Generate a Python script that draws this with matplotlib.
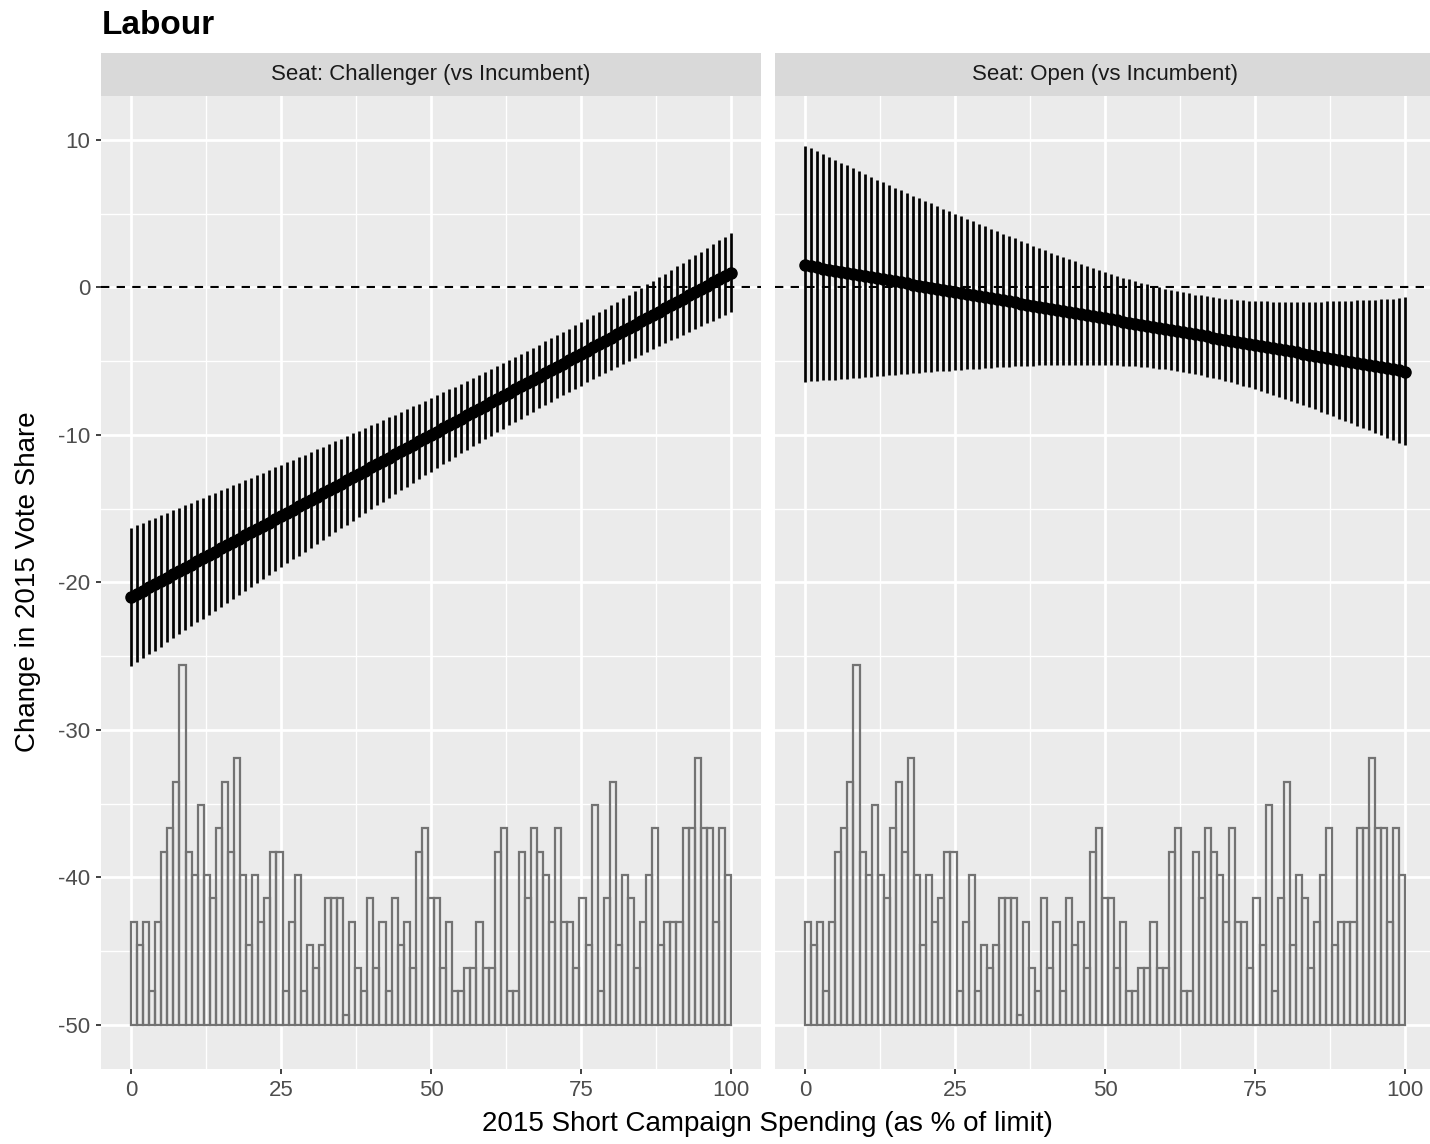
import numpy as np
import matplotlib
matplotlib.use("Agg")
import matplotlib.pyplot as plt

plt.rcParams['font.family'] = ['Liberation Sans', 'DejaVu Sans']
plt.rcParams['axes.unicode_minus'] = False

# ---------------- data ----------------
title = "Labour"
facet_titles = ["Seat: Challenger (vs Incumbent)", "Seat: Open (vs Incumbent)"]
x_label = "2015 Short Campaign Spending (as % of limit)"
y_label = "Change in 2015 Vote Share"
x_ticks = [0, 25, 50, 75, 100]
x_tick_labels = ["0", "25", "50", "75", "100"]
y_ticks = [-50, -40, -30, -20, -10, 0, 10]
y_tick_labels = ["-50", "-40", "-30", "-20", "-10", "0", "10"]

spending = np.arange(0, 101)

left_fit = [-21.00, -20.78, -20.56, -20.34, -20.12, -19.90, -19.68, -19.46, -19.24, -19.02,
            -18.80, -18.58, -18.36, -18.14, -17.92, -17.70, -17.48, -17.26, -17.04, -16.82,
            -16.60, -16.38, -16.16, -15.94, -15.72, -15.50, -15.28, -15.06, -14.84, -14.62,
            -14.40, -14.18, -13.96, -13.74, -13.52, -13.30, -13.08, -12.86, -12.64, -12.42,
            -12.20, -11.98, -11.76, -11.54, -11.32, -11.10, -10.88, -10.66, -10.44, -10.22,
            -10.00, -9.78, -9.56, -9.34, -9.12, -8.90, -8.68, -8.46, -8.24, -8.02,
            -7.80, -7.58, -7.36, -7.14, -6.92, -6.70, -6.48, -6.26, -6.04, -5.82,
            -5.60, -5.38, -5.16, -4.94, -4.72, -4.50, -4.28, -4.06, -3.84, -3.62,
            -3.40, -3.18, -2.96, -2.74, -2.52, -2.30, -2.08, -1.86, -1.64, -1.42,
            -1.20, -0.98, -0.76, -0.54, -0.32, -0.10, 0.12, 0.34, 0.56, 0.78, 1.00]

left_lo = [-25.70, -25.43, -25.16, -24.89, -24.62, -24.35, -24.07, -23.80, -23.53, -23.26,
           -22.99, -22.72, -22.45, -22.18, -21.91, -21.65, -21.38, -21.11, -20.84, -20.57,
           -20.31, -20.04, -19.77, -19.51, -19.24, -18.97, -18.71, -18.44, -18.18, -17.91,
           -17.65, -17.39, -17.13, -16.86, -16.60, -16.34, -16.08, -15.82, -15.56, -15.30,
           -15.04, -14.78, -14.53, -14.27, -14.01, -13.76, -13.51, -13.25, -13.00, -12.75,
           -12.50, -12.25, -12.00, -11.76, -11.51, -11.26, -11.02, -10.78, -10.54, -10.30,
           -10.06, -9.82, -9.59, -9.35, -9.12, -8.89, -8.66, -8.43, -8.20, -7.98,
           -7.75, -7.53, -7.31, -7.09, -6.87, -6.66, -6.44, -6.23, -6.02, -5.81,
           -5.60, -5.39, -5.19, -4.98, -4.78, -4.58, -4.38, -4.18, -3.98, -3.78,
           -3.59, -3.40, -3.20, -3.01, -2.82, -2.63, -2.44, -2.25, -2.07, -1.88, -1.69]

left_hi = [-16.30, -16.13, -15.96, -15.79, -15.62, -15.45, -15.29, -15.12, -14.95, -14.78,
           -14.61, -14.44, -14.27, -14.10, -13.93, -13.75, -13.58, -13.41, -13.24, -13.07,
           -12.89, -12.72, -12.55, -12.37, -12.20, -12.03, -11.85, -11.68, -11.50, -11.33,
           -11.15, -10.97, -10.79, -10.62, -10.44, -10.26, -10.08, -9.90, -9.72, -9.54,
           -9.36, -9.18, -8.99, -8.81, -8.63, -8.44, -8.25, -8.07, -7.88, -7.69,
           -7.50, -7.31, -7.12, -6.92, -6.73, -6.54, -6.34, -6.14, -5.94, -5.74,
           -5.54, -5.34, -5.13, -4.93, -4.72, -4.51, -4.30, -4.09, -3.88, -3.66,
           -3.45, -3.23, -3.01, -2.79, -2.57, -2.34, -2.12, -1.89, -1.66, -1.43,
           -1.20, -0.97, -0.73, -0.50, -0.26, -0.02, 0.22, 0.46, 0.70, 0.94,
           1.19, 1.44, 1.68, 1.93, 2.18, 2.43, 2.68, 2.93, 3.19, 3.44, 3.69]

right_fit = [1.50, 1.43, 1.36, 1.28, 1.21, 1.14, 1.07, 1.00, 0.92, 0.85,
             0.78, 0.71, 0.64, 0.56, 0.49, 0.42, 0.35, 0.28, 0.20, 0.13,
             0.06, -0.01, -0.08, -0.16, -0.23, -0.30, -0.37, -0.44, -0.52, -0.59,
             -0.66, -0.73, -0.80, -0.88, -0.95, -1.02, -1.09, -1.16, -1.24, -1.31,
             -1.38, -1.45, -1.52, -1.60, -1.67, -1.74, -1.81, -1.88, -1.96, -2.03,
             -2.10, -2.17, -2.24, -2.32, -2.39, -2.46, -2.53, -2.60, -2.68, -2.75,
             -2.82, -2.89, -2.96, -3.04, -3.11, -3.18, -3.25, -3.32, -3.40, -3.47,
             -3.54, -3.61, -3.68, -3.76, -3.83, -3.90, -3.97, -4.04, -4.12, -4.19,
             -4.26, -4.33, -4.40, -4.48, -4.55, -4.62, -4.69, -4.76, -4.84, -4.91,
             -4.98, -5.05, -5.12, -5.20, -5.27, -5.34, -5.41, -5.48, -5.56, -5.63, -5.70]

right_lo = [-6.40, -6.37, -6.34, -6.31, -6.28, -6.25, -6.21, -6.18, -6.15, -6.12,
            -6.09, -6.06, -6.02, -6.00, -5.96, -5.92, -5.89, -5.85, -5.83, -5.79,
            -5.76, -5.72, -5.69, -5.67, -5.64, -5.61, -5.58, -5.55, -5.53, -5.50,
            -5.47, -5.44, -5.42, -5.40, -5.38, -5.36, -5.34, -5.32, -5.31, -5.29,
            -5.28, -5.26, -5.25, -5.25, -5.24, -5.24, -5.24, -5.24, -5.25, -5.25,
            -5.26, -5.27, -5.28, -5.31, -5.33, -5.36, -5.39, -5.42, -5.47, -5.51,
            -5.56, -5.61, -5.67, -5.74, -5.81, -5.88, -5.96, -6.04, -6.14, -6.23,
            -6.33, -6.43, -6.54, -6.66, -6.77, -6.89, -7.01, -7.14, -7.28, -7.41,
            -7.55, -7.69, -7.83, -7.98, -8.12, -8.27, -8.42, -8.57, -8.74, -8.89,
            -9.05, -9.21, -9.37, -9.54, -9.70, -9.86, -10.03, -10.19, -10.37, -10.54, -10.68]

right_hi = [9.62, 9.43, 9.24, 9.04, 8.85, 8.66, 8.47, 8.27, 8.07, 7.88,
            7.70, 7.51, 7.32, 7.13, 6.95, 6.76, 6.59, 6.41, 6.23, 6.05,
            5.88, 5.70, 5.53, 5.35, 5.18, 5.01, 4.84, 4.67, 4.49, 4.32,
            4.15, 3.98, 3.82, 3.64, 3.48, 3.32, 3.16, 3.00, 2.83, 2.67,
            2.52, 2.36, 2.21, 2.05, 1.90, 1.76, 1.62, 1.48, 1.33, 1.19,
            1.06, 0.93, 0.80, 0.67, 0.55, 0.44, 0.33, 0.22, 0.11, 0.01,
            -0.08, -0.17, -0.25, -0.34, -0.41, -0.48, -0.54, -0.60, -0.66, -0.71,
            -0.75, -0.79, -0.82, -0.86, -0.89, -0.91, -0.93, -0.94, -0.96, -0.97,
            -0.97, -0.97, -0.97, -0.98, -0.98, -0.97, -0.96, -0.95, -0.94, -0.93,
            -0.91, -0.89, -0.87, -0.86, -0.84, -0.82, -0.79, -0.77, -0.75, -0.72, -0.66]

# histogram of spending (99 bins over 0..100), counts per bin
hist_counts = [5, 4, 5, 2, 5, 8, 9, 11, 16, 8,
               7, 10, 7, 6, 9, 11, 8, 12, 7, 4,
               7, 5, 6, 8, 8, 2, 5, 7, 2, 4,
               3, 4, 6, 6, 6, 1, 5, 3, 2, 6,
               3, 5, 2, 6, 4, 5, 3, 8, 9, 6,
               6, 3, 5, 2, 2, 3, 3, 5, 3, 3,
               8, 9, 2, 2, 8, 6, 9, 8, 7, 5,
               9, 5, 5, 3, 6, 4, 10, 2, 6, 11,
               4, 7, 6, 3, 5, 7, 9, 4, 5, 5,
               5, 9, 9, 12, 9, 9, 5, 9, 7]
hist_range = (0, 100)
hist_base = -50        # histogram drawn from this baseline
hist_per_count = 1.58  # vertical units per count
hist_shift = -0.9      # offset of the rescaled counts

panels = [
    (left_fit, left_lo, left_hi),
    (right_fit, right_lo, right_hi),
]

# ---------------- figure ----------------
W, H = 1430, 1144
fig = plt.figure(figsize=(W / 100, H / 100), dpi=100)


def px_rect(x0, y0, x1, y1):
    return [x0 / W, 1 - y1 / H, (x1 - x0) / W, (y1 - y0) / H]


panel_x = [(101, 761), (775, 1435)]
panel_top, panel_bottom = 95.75, 1069
strip_top = 53

edges = np.linspace(hist_range[0], hist_range[1], len(hist_counts) + 1)
hist_heights = np.array(hist_counts) * hist_per_count + hist_shift

for i, (fit, lo, hi) in enumerate(panels):
    x0, x1 = panel_x[i]
    ax = fig.add_axes(px_rect(x0, panel_top, x1, panel_bottom))
    ax.set_facecolor('#EBEBEB')
    for s in ax.spines.values():
        s.set_visible(False)
    ax.set_xlim(-5, 105)
    ax.set_ylim(-53, 13)
    ax.set_xticks(x_ticks)
    ax.set_xticklabels(x_tick_labels)
    ax.set_xticks([12.5, 37.5, 62.5, 87.5], minor=True)
    ax.set_yticks(y_ticks)
    ax.set_yticks([-45, -35, -25, -15, -5, 5], minor=True)
    ax.set_axisbelow(True)
    ax.grid(which='major', color='white', linewidth=1.95)
    ax.grid(which='minor', color='white', linewidth=0.97)
    ax.tick_params(which='minor', length=0)
    ax.tick_params(which='major', length=3.6, width=1.3, color='#333333',
                   labelcolor='#4D4D4D', labelsize=16, pad=4)
    if i == 0:
        ax.set_yticklabels(y_tick_labels)
    else:
        ax.tick_params(axis='y', which='both', left=False, labelleft=False)

    # reference line
    ax.axhline(0, color='black', linewidth=1.5, linestyle=(0, (4, 3.5)), zorder=2)

    # histogram
    ax.bar(edges[:-1], hist_heights, width=np.diff(edges), bottom=hist_base,
           align='edge', fill=False, edgecolor='#737373', linewidth=1.6, zorder=3)

    # confidence intervals
    ax.vlines(spending, lo, hi, colors='black', linewidth=1.95, zorder=4)

    # fitted line
    ax.plot(spending, fit, color='black', linewidth=7, solid_capstyle='round',
            marker='o', markersize=8, zorder=5)

    # strip
    sax = fig.add_axes(px_rect(x0, strip_top, x1, panel_top))
    sax.set_facecolor('#D9D9D9')
    sax.set_xticks([])
    sax.set_yticks([])
    for s in sax.spines.values():
        s.set_visible(False)
    sax.text(0.5, 0.5, facet_titles[i], ha='center', va='center',
             fontsize=16, color='#1A1A1A', transform=sax.transAxes)

fig.text(102 / W, 1 - 34 / H, title, fontsize=24, fontweight='bold',
         ha='left', va='baseline', color='black')
fig.text(28 / W, 1 - 582 / H, y_label, rotation=90, fontsize=20,
         ha='center', va='center', color='black')
fig.text(767 / W, 1 - 1124 / H, x_label, fontsize=20,
         ha='center', va='center', color='black')

fig.savefig('out.png', dpi=100)
